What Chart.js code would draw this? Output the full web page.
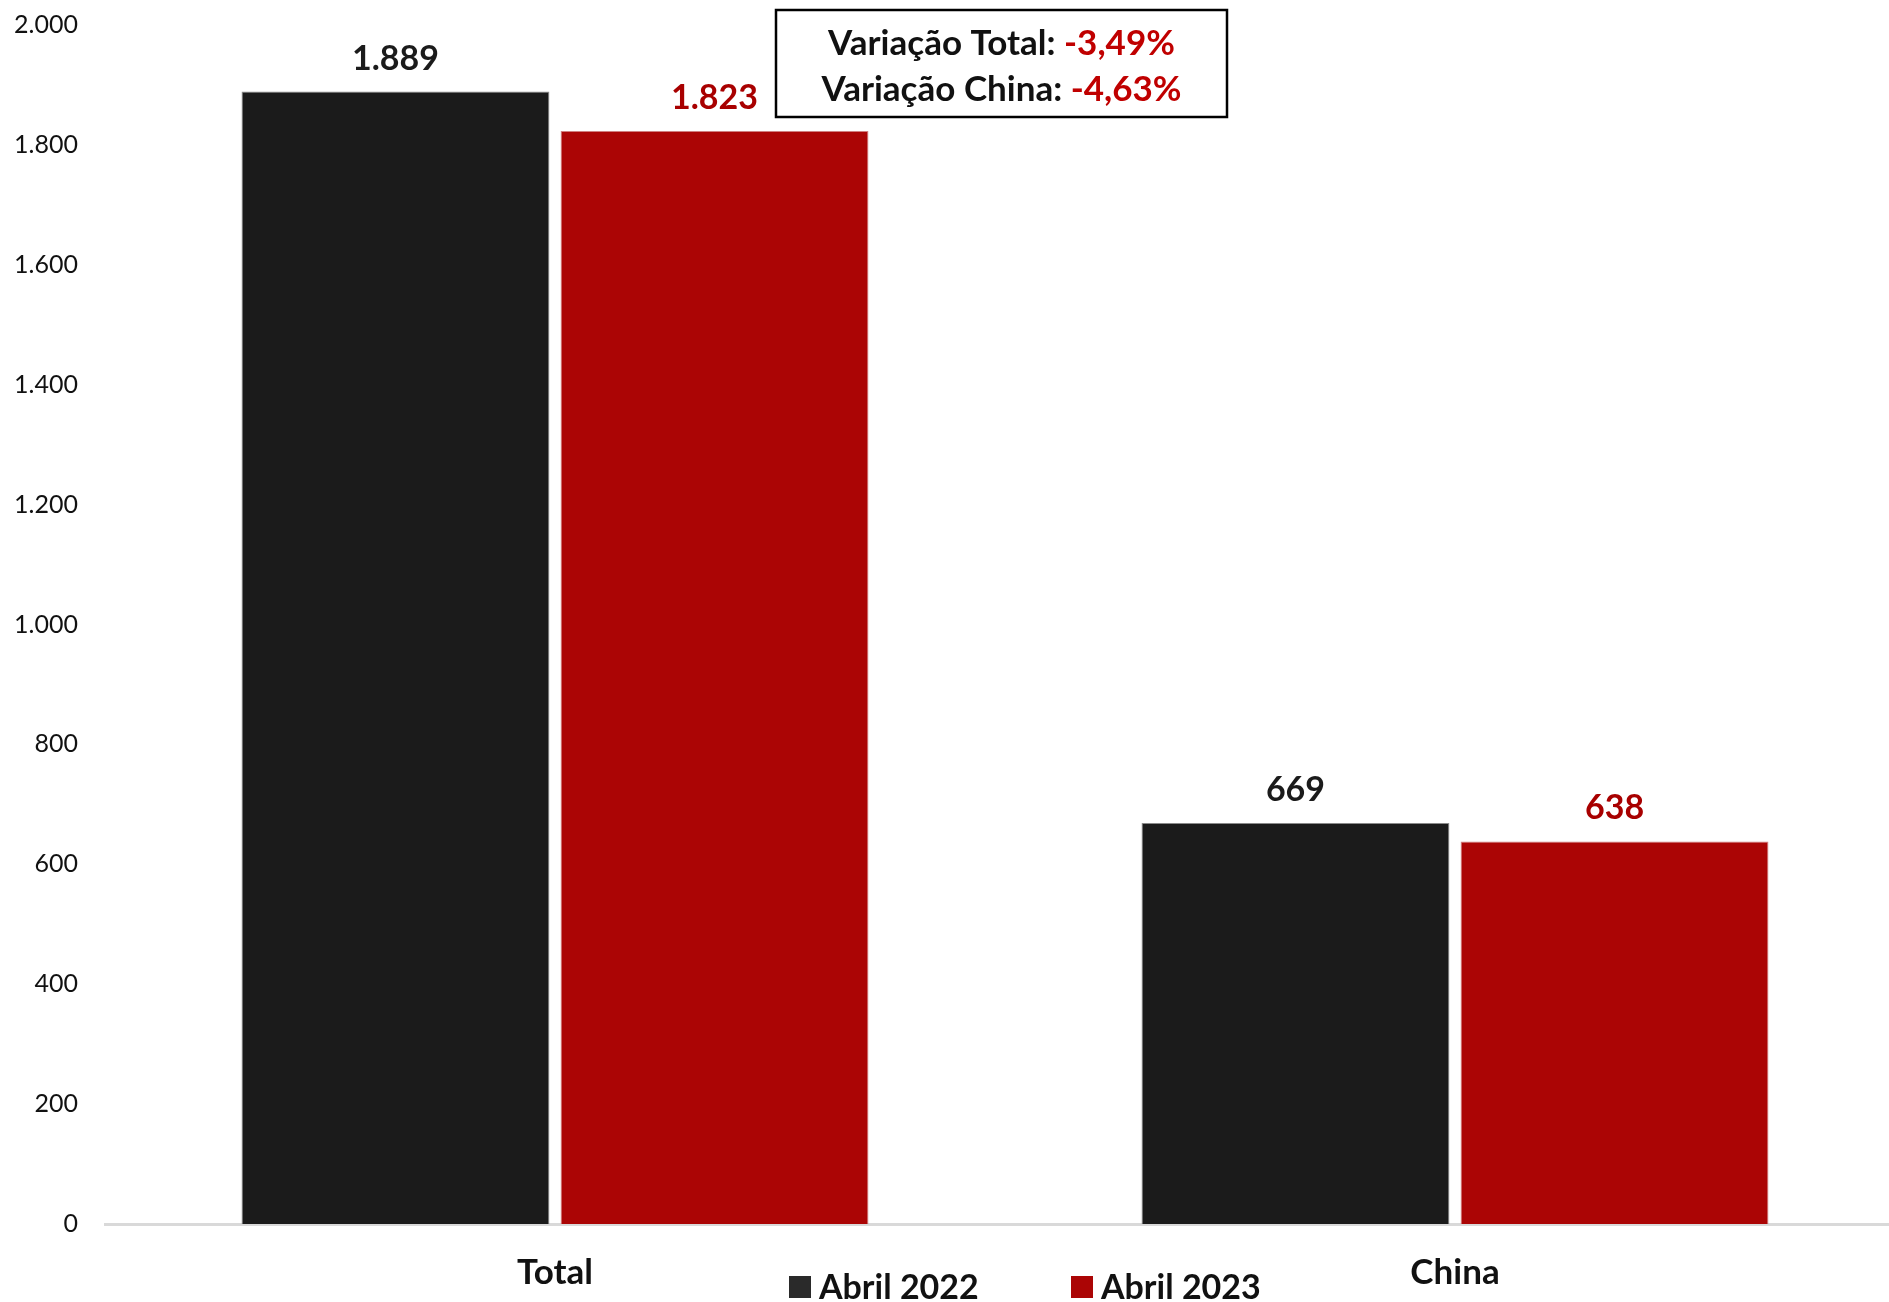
<!DOCTYPE html>
<html>
<head>
<meta charset="utf-8">
<script src="https://cdn.jsdelivr.net/npm/chart.js@4/dist/chart.umd.min.js"></script>
<style>
    html, body { margin: 0; padding: 0; background: #ffffff; overflow: hidden; }
    #wrap { position: relative; width: 1910px; height: 1302px; }
</style>
</head>
<body>
<div id="wrap"><canvas id="chart"></canvas></div>
<script>
// ==================== Data ====================
const categories = ['Total', 'China'];
const seriesNames = ['Abril 2022', 'Abril 2023'];
const values2022 = [1889, 669];
const values2023 = [1823, 638];
const yTicks = [0, 200, 400, 600, 800, 1000, 1200, 1400, 1600, 1800, 2000];
const boxLines = [
    ['Variação Total: ', '-3,49%'],
    ['Variação China: ', '-4,63%']
];

const BLACK = '#1b1b1b';
const RED = '#ab0505';
const LABEL_RED = '#a80000';
const FONT = 'Lato, "Open Sans", sans-serif';

function fmt(v) {
    return v.toLocaleString('pt-BR');
}

// ==================== Plugins ====================
const valueLabels = {
    id: 'valueLabels',
    afterDatasetsDraw(chart) {
        const ctx = chart.ctx;
        ctx.save();
        ctx.font = 'bold 34px ' + FONT;
        ctx.textAlign = 'center';
        ctx.textBaseline = 'middle';
        chart.data.datasets.forEach((ds, i) => {
            ctx.fillStyle = i === 0 ? BLACK : LABEL_RED;
            chart.getDatasetMeta(i).data.forEach((bar, j) => {
                ctx.fillText(fmt(ds.data[j]), bar.x, bar.y - 33);
            });
        });
        ctx.restore();
    }
};

const customLegend = {
    id: 'customLegend',
    afterDraw(chart) {
        const ctx = chart.ctx;
        const boxX = [789, 1071];
        const y = 1287;
        ctx.save();
        ctx.font = 'bold 34px ' + FONT;
        ctx.textBaseline = 'middle';
        ctx.textAlign = 'left';
        chart.data.datasets.forEach((ds, i) => {
            ctx.fillStyle = i === 0 ? '#2a2a2a' : RED;
            ctx.fillRect(boxX[i], y - 11, 22, 22);
            ctx.fillStyle = '#111111';
            ctx.fillText(ds.label, boxX[i] + 30, y + 1);
        });
        ctx.restore();
    }
};

const noteBox = {
    id: 'noteBox',
    afterDraw(chart) {
        const ctx = chart.ctx;
        const left = 776, top = 10, w = 451, h = 107;
        ctx.save();
        ctx.strokeStyle = '#000000';
        ctx.lineWidth = 2.5;
        ctx.strokeRect(left, top, w, h);
        ctx.font = 'bold 35px ' + FONT;
        ctx.textBaseline = 'middle';
        ctx.textAlign = 'left';
        const cx = left + w / 2;
        const ys = [44, 90];
        boxLines.forEach((line, i) => {
            const w1 = ctx.measureText(line[0]).width;
            const w2 = ctx.measureText(line[1]).width;
            const x0 = cx - (w1 + w2) / 2;
            ctx.fillStyle = '#111111';
            ctx.fillText(line[0], x0, ys[i]);
            ctx.fillStyle = '#c00000';
            ctx.fillText(line[1], x0 + w1, ys[i]);
        });
        ctx.restore();
    }
};

// ==================== Chart ====================
const ctx = document.getElementById('chart').getContext('2d');
new Chart(ctx, {
    type: 'bar',
    data: {
        labels: categories,
        datasets: [{
            label: seriesNames[0],
            data: values2022,
            backgroundColor: BLACK,
            borderColor: '#8a8a8a',
            borderWidth: { top: 1, left: 1, right: 1, bottom: 0 },
            categoryPercentage: 0.709,
            barPercentage: 0.965
        }, {
            label: seriesNames[1],
            data: values2023,
            backgroundColor: RED,
            borderColor: '#d08080',
            borderWidth: { top: 1, left: 1, right: 1, bottom: 0 },
            categoryPercentage: 0.709,
            barPercentage: 0.965
        }]
    },
    options: {
        responsive: true,
        maintainAspectRatio: false,
        animation: false,
        layout: { padding: { top: 25, right: 5, left: 0, bottom: 0 } },
        plugins: {
            legend: { display: false },
            tooltip: { enabled: false }
        },
        scales: {
            x: {
                grid: { display: false },
                border: { display: true, color: '#d9d9d9', width: 3 },
                ticks: {
                    color: '#111111',
                    font: { family: FONT, size: 35, weight: 'bold' },
                    padding: 20
                },
                afterFit(scale) { scale.height = 78; }
            },
            y: {
                min: 0,
                max: 2000,
                afterBuildTicks(scale) {
                    scale.ticks = yTicks.map(v => ({ value: v }));
                },
                grid: { display: false },
                border: { display: false },
                ticks: {
                    color: '#111111',
                    font: { family: FONT, size: 25, lineHeight: 0.4 },
                    padding: 19,
                    callback: function (value) {
                        return fmt(value);
                    }
                },
                afterFit(scale) { scale.width = 105; }
            }
        }
    },
    plugins: [valueLabels, customLegend, noteBox]
});
</script>
</body>
</html>
